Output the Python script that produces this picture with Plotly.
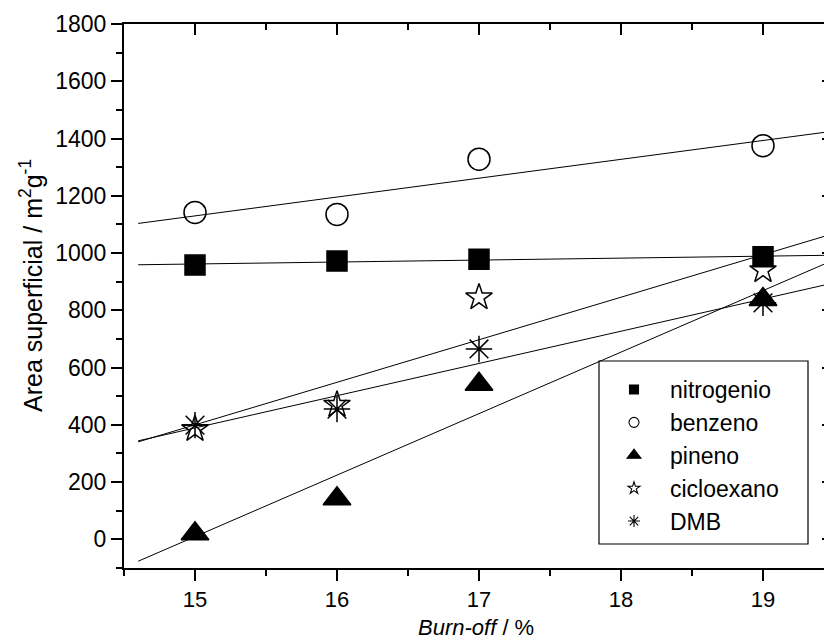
import numpy as np
import plotly.graph_objects as go

# ---- data ----
burnoff = [15, 16, 17, 19]
nitrogenio = [958, 972, 978, 987]
benzeno = [1142, 1135, 1328, 1375]
pineno = [20, 142, 542, 838]
cicloexano = [385, 470, 845, 940]
dmb = [399, 455, 665, 826]

series_names = ["nitrogenio", "benzeno", "pineno", "cicloexano", "DMB"]
series_values = [nitrogenio, benzeno, pineno, cicloexano, dmb]
symbols = ["square", "circle-open", "triangle-up", "star-open", "asterisk-open"]
plot_sizes = [20, 22, 24, 20, 22]
legend_sizes = [9, 10, 12, 9, 10]

fit_x = np.array([14.6, 19.6])

FONT = "Liberation Sans, Arial, sans-serif"

fig = go.Figure()

# fit lines
for vals in series_values:
    k, b = np.polyfit(burnoff, vals, 1)
    fig.add_trace(go.Scatter(x=fit_x, y=k * fit_x + b, mode="lines",
                             line=dict(color="black", width=1),
                             showlegend=False, hoverinfo="skip"))

# markers
for name, vals, sym, sz in zip(series_names, series_values, symbols, plot_sizes):
    fig.add_trace(go.Scatter(x=burnoff, y=vals, mode="markers", name=name,
                             marker=dict(symbol=sym, size=sz, color="black",
                                         line=dict(color="black", width=1.5)),
                             showlegend=False))

# legend-only entries (smaller symbols, as in the reference legend)
for name, sym, sz in zip(series_names, symbols, legend_sizes):
    fig.add_trace(go.Scatter(x=[None], y=[None], mode="markers", name=name,
                             marker=dict(symbol=sym, size=sz, color="black",
                                         line=dict(color="black", width=1.1))))

# dummy trace for the secondary (top/right) axes
fig.add_trace(go.Scatter(x=[None], y=[None], xaxis="x2", yaxis="y2",
                         showlegend=False, hoverinfo="skip"))

XR = [14.5, 14.5 + 700 / 142]
YR = [-100, 1800]

fig.update_layout(
    width=824, height=641,
    margin=dict(l=124, r=0, t=24, b=73),
    paper_bgcolor="white", plot_bgcolor="white",
    font=dict(family=FONT, color="black"),
    xaxis=dict(range=XR, showline=True, linecolor="black", linewidth=2,
               ticks="outside", ticklen=11, tickwidth=1.5, tickcolor="black",
               tickvals=[15, 16, 17, 18, 19], tickfont=dict(size=22, family=FONT),
               minor=dict(tickvals=[14.5, 15.5, 16.5, 17.5, 18.5], ticks="outside",
                          ticklen=6, tickwidth=1.5, tickcolor="black"),
               showgrid=False, zeroline=False),
    xaxis2=dict(range=XR, overlaying="x", side="top", showline=True,
                linecolor="black", linewidth=2, ticks="inside", ticklen=11,
                tickwidth=1.5, tickcolor="black", tickvals=[15, 16, 17, 18, 19],
                showticklabels=False,
                minor=dict(tickvals=[14.5, 15.5, 16.5, 17.5, 18.5], ticks="inside",
                           ticklen=6, tickwidth=1.5, tickcolor="black"),
                showgrid=False, zeroline=False),
    yaxis=dict(range=YR, showline=True, linecolor="black", linewidth=2,
               ticks="outside", ticklen=11, tickwidth=1.5, tickcolor="black",
               tick0=0, dtick=200, tickfont=dict(size=23, family=FONT),
               minor=dict(dtick=100, ticks="outside", ticklen=6, tickwidth=1.5,
                          tickcolor="black"),
               showgrid=False, zeroline=False),
    yaxis2=dict(range=YR, overlaying="y", side="right", showline=False,
                ticks="inside", ticklen=2, tickwidth=1.5, tickcolor="black",
                tick0=0, dtick=200, showticklabels=False,
                showgrid=False, zeroline=False),
    legend=dict(x=(598 - 124) / 700, xanchor="left",
                y=(568 - 368) / 544, yanchor="top",
                bgcolor="rgba(0,0,0,0)", borderwidth=0,
                font=dict(size=23, family=FONT, color="black"),
                itemwidth=62, tracegroupgap=0),
    shapes=[dict(type="rect", xref="paper", yref="paper",
                 x0=(599 - 124) / 700, x1=(808 - 124) / 700,
                 y0=(568 - 544) / 544, y1=(568 - 361) / 544,
                 line=dict(color="black", width=1.2), fillcolor="rgba(0,0,0,0)")],
    annotations=[
        dict(text="Area superficial / m<sup>2</sup>g<sup>-1</sup>", textangle=-90,
             xref="paper", yref="paper", x=(31 - 124) / 700, y=(568 - 285) / 544,
             xanchor="center", yanchor="middle", showarrow=False,
             font=dict(size=25, family=FONT, color="black")),
        dict(text="<i>Burn-off</i> / %", xref="paper", yref="paper",
             x=(476 - 124) / 700, y=(568 - 627) / 544,
             xanchor="center", yanchor="middle", showarrow=False,
             font=dict(size=22, family=FONT, color="black")),
    ],
)

fig.write_html("out.html")
